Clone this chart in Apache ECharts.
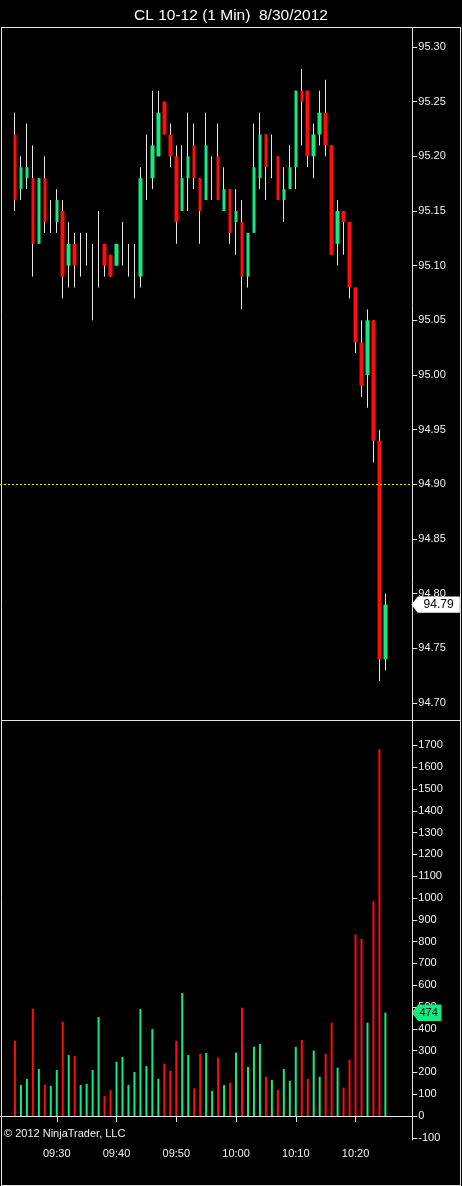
<!DOCTYPE html>
<html>
<head>
<meta charset="utf-8">
<script src="https://cdn.jsdelivr.net/npm/echarts@6/dist/echarts.min.js"></script>
<style>
html,body{margin:0;padding:0;background:#000;}
#c{width:462px;height:1186px;}
</style>
</head>
<body>
<div id="c"></div>
<script>
// ---- data ----
var axisMinutes = ['09:21','09:22','09:23','09:24','09:25','09:26','09:27','09:28','09:29','09:30',
  '09:31','09:32','09:33','09:34','09:35','09:36','09:37','09:38','09:39','09:40',
  '09:41','09:42','09:43','09:44','09:45','09:46','09:47','09:48','09:49','09:50',
  '09:51','09:52','09:53','09:54','09:55','09:56','09:57','09:58','09:59','10:00',
  '10:01','10:02','10:03','10:04','10:05','10:06','10:07','10:08','10:09','10:10',
  '10:11','10:12','10:13','10:14','10:15','10:16','10:17','10:18','10:19','10:20',
  '10:21','10:22','10:23','10:24','10:25','10:26','10:27','10:28','10:29'];
var times = ['09:23','09:24','09:25','09:26','09:27','09:28','09:29','09:30',
  '09:31','09:32','09:33','09:34','09:35','09:36','09:37','09:38','09:39','09:40',
  '09:41','09:42','09:43','09:44','09:45','09:46','09:47','09:48','09:49','09:50',
  '09:51','09:52','09:53','09:54','09:55','09:56','09:57','09:58','09:59','10:00',
  '10:01','10:02','10:03','10:04','10:05','10:06','10:07','10:08','10:09','10:10',
  '10:11','10:12','10:13','10:14','10:15','10:16','10:17','10:18','10:19','10:20',
  '10:21','10:22','10:23','10:24','10:25'];
var open  = [95.22,95.17,95.18,95.18,95.12,95.18,95.14,95.14,95.15,95.10,95.12,95.11,95.11,95.11,95.11,95.12,95.11,95.10,95.12,95.11,95.11,95.09,95.18,95.18,95.20,95.25,95.22,95.20,95.15,95.18,95.21,95.18,95.16,95.18,95.20,95.15,95.17,95.14,95.14,95.09,95.13,95.18,95.22,95.19,95.20,95.16,95.17,95.19,95.26,95.26,95.20,95.22,95.24,95.21,95.12,95.15,95.14,95.08,95.03,95.00,95.05,94.94,94.74];
var close = [95.16,95.19,95.19,95.12,95.18,95.14,95.14,95.16,95.09,95.12,95.10,95.11,95.11,95.11,95.11,95.10,95.09,95.12,95.12,95.11,95.11,95.18,95.18,95.21,95.24,95.22,95.20,95.14,95.18,95.20,95.18,95.15,95.21,95.18,95.16,95.17,95.13,95.15,95.09,95.13,95.19,95.22,95.19,95.19,95.16,95.17,95.19,95.26,95.25,95.20,95.22,95.24,95.21,95.11,95.15,95.14,95.08,95.03,94.99,95.05,94.94,94.74,94.79];
var low   = [95.15,95.16,95.17,95.09,95.12,95.13,95.13,95.13,95.07,95.08,95.08,95.09,95.10,95.05,95.08,95.09,95.09,95.10,95.10,95.09,95.07,95.08,95.16,95.17,95.20,95.22,95.19,95.12,95.15,95.15,95.17,95.12,95.16,95.16,95.16,95.15,95.12,95.11,95.06,95.08,95.13,95.17,95.16,95.18,95.16,95.14,95.17,95.17,95.21,95.19,95.18,95.21,95.20,95.11,95.10,95.11,95.07,95.02,94.98,94.97,94.92,94.72,94.73];
var high  = [95.24,95.20,95.23,95.21,95.18,95.20,95.16,95.17,95.16,95.14,95.13,95.13,95.13,95.12,95.15,95.12,95.11,95.12,95.14,95.12,95.12,95.19,95.22,95.26,95.26,95.25,95.23,95.21,95.21,95.24,95.23,95.18,95.24,95.20,95.23,95.19,95.17,95.17,95.16,95.13,95.23,95.24,95.22,95.22,95.20,95.19,95.21,95.26,95.28,95.26,95.23,95.26,95.27,95.21,95.16,95.15,95.14,95.08,95.05,95.06,95.05,94.95,94.80];
var volume = [345,142,170,492,216,144,138,211,433,280,275,142,147,211,454,92,119,249,271,142,202,491,229,399,171,240,208,345,564,280,127,286,289,115,268,142,153,291,497,225,318,330,180,165,119,216,162,317,349,171,300,180,286,428,222,130,258,833,812,428,986,1682,474];
var referenceLine = 94.90;
var priceTicks = {min: 94.70, max: 95.30, interval: 0.05};
var volumeTicks = {min: -100, max: 1700, interval: 100};
var titleText = 'CL 10-12 (1 Min)  8/30/2012';
var copyrightText = '\u00a9 2012 NinjaTrader, LLC';

// ---- styles ----
var UP = '#14ea80', DOWN = '#ff0c0c', WICK = '#e6e6e6', TXT = '#f2f2f2';
var FONT = '"Liberation Sans", Arial, sans-serif';

var wickData = times.map(function (t, i) { return [t, open[i], close[i], low[i], high[i]]; });
var bodyData = times.map(function (t, i) {
  return [t, open[i], close[i], Math.min(open[i], close[i]), Math.max(open[i], close[i])];
});
var volData = times.map(function (t, i) {
  return {value: [t, volume[i]], itemStyle: {color: close[i] >= open[i] ? UP : DOWN}};
});
var last = times.length - 1;

var chart = echarts.init(document.getElementById('c'), null, {renderer: 'canvas'});

function hline(y, x1, x2) {
  return {type: 'line', silent: true, z: 10, shape: {x1: x1, y1: y, x2: x2, y2: y}, style: {stroke: '#e6e6e6', lineWidth: 1}};
}
function vline(x, y1, y2) {
  return {type: 'line', silent: true, z: 10, shape: {x1: x, y1: y1, x2: x, y2: y2}, style: {stroke: '#e6e6e6', lineWidth: 1}};
}

chart.setOption({
  animation: false,
  backgroundColor: '#000',
  title: {
    text: titleText, left: 'center', top: 3,
    textStyle: {color: '#ffffff', fontSize: 15.5, fontWeight: 'normal', fontFamily: FONT}
  },
  graphic: [
    hline(27.5, 1, 461), hline(720.5, 1, 461), hline(1185.5, 1, 461),
    vline(1.5, 27, 1186), vline(460.5, 27, 1186), vline(412.5, 27, 1140.5),
    {type: 'text', silent: true, left: 4, top: 1128,
     style: {text: copyrightText, fill: TXT, font: '11px ' + FONT}}
  ],
  grid: [
    {left: -1.7, width: 414, top: 47, height: 656},
    {left: -1.7, width: 414, top: 745.4, height: 392.4}
  ],
  xAxis: [
    {type: 'category', gridIndex: 0, data: axisMinutes, boundaryGap: true,
     axisLine: {show: false}, axisTick: {show: false}, axisLabel: {show: false}, splitLine: {show: false}},
    {type: 'category', gridIndex: 1, data: axisMinutes, boundaryGap: true, position: 'bottom', offset: 2.7,
     axisLine: {show: true, lineStyle: {color: '#e6e6e6', width: 1}},
     axisTick: {show: true, alignWithLabel: true, length: 6, lineStyle: {color: '#e6e6e6'},
       interval: function (i, v) { return v.slice(-1) === '0'; }},
     axisLabel: {show: true, color: TXT, fontSize: 11, fontFamily: FONT, margin: 8,
       interval: function (i, v) { return v.slice(-1) === '0'; }},
     splitLine: {show: false}}
  ],
  yAxis: [
    {type: 'value', gridIndex: 0, position: 'right', min: priceTicks.min, max: priceTicks.max, interval: priceTicks.interval,
     axisLine: {show: false}, axisTick: {show: true, length: 5, lineStyle: {color: '#e6e6e6'}},
     axisLabel: {color: TXT, fontSize: 11, fontFamily: FONT, margin: 6,
       formatter: function (v) { return v.toFixed(2); }},
     splitLine: {show: false}},
    {type: 'value', gridIndex: 1, position: 'right', min: volumeTicks.min, max: volumeTicks.max, interval: volumeTicks.interval,
     axisLine: {show: false}, axisTick: {show: true, length: 5, lineStyle: {color: '#e6e6e6'}},
     axisLabel: {color: TXT, fontSize: 11, fontFamily: FONT, margin: 6,
       formatter: function (v) { return String(Math.round(v)); }},
     splitLine: {show: false}}
  ],
  series: [
    {type: 'candlestick', name: 'wick', xAxisIndex: 0, yAxisIndex: 0, data: wickData,
     encode: {x: 0, y: [1, 2, 3, 4]}, barWidth: 1, silent: true,
     itemStyle: {color: WICK, color0: WICK, borderColor: WICK, borderColor0: WICK, borderColorDoji: WICK, borderWidth: 1},
     markLine: {silent: true, symbol: 'none', label: {show: false},
       lineStyle: {color: '#f0f000', type: [2, 2], width: 1},
       data: [{yAxis: referenceLine}]}
    },
    {type: 'candlestick', name: 'body', xAxisIndex: 0, yAxisIndex: 0, data: bodyData, clip: false,
     encode: {x: 0, y: [1, 2, 3, 4]}, barWidth: 4, silent: true,
     itemStyle: {color: UP, color0: DOWN, borderColor: UP, borderColor0: DOWN, borderColorDoji: 'rgba(0,0,0,0)', borderWidth: 0},
     markPoint: {silent: true,
       data: [{coord: [times[last], close[last]], value: close[last]}],
       symbol: 'path://M0,7.5 L6,0 L45,0 L45,15 L6,15 Z', symbolSize: [45, 15], symbolOffset: [50.2, 0],
       itemStyle: {color: '#ffffff', borderColor: '#ffffff'},
       label: {show: true, position: 'inside', offset: [3, 0], color: '#000', fontSize: 12, fontFamily: FONT,
         formatter: function (p) { return close[last].toFixed(2); }}}
    },
    {type: 'bar', name: 'volume', xAxisIndex: 1, yAxisIndex: 1, data: volData, clip: false,
     encode: {x: 0, y: 1}, barWidth: 2, silent: true,
     markLine: {silent: true, symbol: 'none', label: {show: false},
       lineStyle: {color: '#e6e6e6', type: 'solid', width: 1},
       data: [{yAxis: 0}]},
     markPoint: {silent: true,
       data: [{coord: [times[last], volume[last]], value: volume[last]}],
       symbol: 'path://M0,7.5 L6,0 L27,0 L27,15 L6,15 Z', symbolSize: [27, 15], symbolOffset: [41.2, 0],
       itemStyle: {color: UP, borderColor: UP},
       label: {show: true, position: 'inside', offset: [2, 0], color: '#000', fontSize: 11, fontFamily: FONT,
         formatter: function (p) { return String(volume[last]); }}}
    }
  ]
});
</script>
</body>
</html>
